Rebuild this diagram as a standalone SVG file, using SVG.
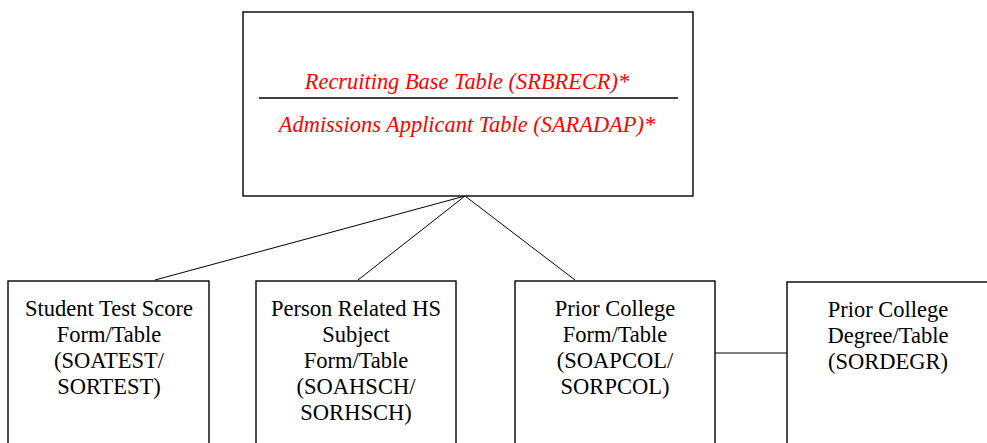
<svg xmlns="http://www.w3.org/2000/svg" width="987" height="443" viewBox="0 0 987 443">
<style>
.box{fill:#fff;stroke:#000;stroke-width:1.4}
.conn{stroke:#000;stroke-width:1;fill:none}
.t{font-family:"Liberation Serif","Times New Roman",serif;font-size:22.5px;fill:#000;text-anchor:middle}
.r{font-family:"Liberation Serif","Times New Roman",serif;font-size:22.4px;font-style:italic;fill:#ff0000;text-anchor:middle}
</style>
<rect width="987" height="443" fill="#fff"/>
<g id="connectors">
<line class="conn" x1="465" y1="196" x2="155" y2="280"/>
<line class="conn" x1="465" y1="196" x2="358" y2="280"/>
<line class="conn" x1="465" y1="196" x2="575" y2="280"/>
<line class="conn" x1="715" y1="353" x2="787" y2="353"/>
</g>
<g id="main">
<rect class="box" x="243" y="12" width="450" height="184"/>
<text class="r" x="467" y="89">Recruiting Base Table (SRBRECR)*</text>
<line x1="259" y1="98" x2="678" y2="98" stroke="#000" stroke-width="1.3"/>
<text class="r" x="467" y="132">Admissions Applicant Table (SARADAP)*</text>
</g>
<g id="sortest">
<rect class="box" x="8" y="281" width="201" height="180"/>
<text class="t" x="109" y="316">Student Test Score</text>
<text class="t" x="109" y="342">Form/Table</text>
<text class="t" x="109" y="368">(SOATEST/</text>
<text class="t" x="109" y="394">SORTEST)</text>
</g>
<g id="sorhsch">
<rect class="box" x="256" y="281" width="200" height="180"/>
<text class="t" x="356" y="316">Person Related HS</text>
<text class="t" x="356" y="342">Subject</text>
<text class="t" x="356" y="368">Form/Table</text>
<text class="t" x="356" y="394">(SOAHSCH/</text>
<text class="t" x="356" y="420">SORHSCH)</text>
</g>
<g id="sorpcol">
<rect class="box" x="515" y="281" width="200" height="180"/>
<text class="t" x="615" y="316">Prior College</text>
<text class="t" x="615" y="342">Form/Table</text>
<text class="t" x="615" y="368">(SOAPCOL/</text>
<text class="t" x="615" y="394">SORPCOL)</text>
</g>
<g id="sordegr">
<rect class="box" x="787" y="282" width="205" height="180"/>
<text class="t" x="888" y="317">Prior College</text>
<text class="t" x="888" y="343">Degree/Table</text>
<text class="t" x="888" y="369">(SORDEGR)</text>
</g>
</svg>
